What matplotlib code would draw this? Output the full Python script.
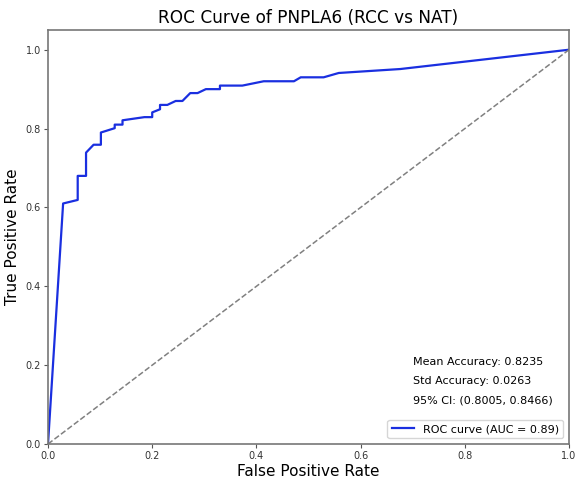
import matplotlib
matplotlib.use("Agg")
import matplotlib.pyplot as plt

fpr = [0.0, 0.029, 0.057, 0.057, 0.073, 0.073, 0.0875, 0.1015, 0.1015, 0.128, 0.128, 0.143, 0.143,
       0.185, 0.2, 0.2, 0.215, 0.215, 0.229, 0.245, 0.258, 0.273, 0.287, 0.303, 0.33, 0.33,
       0.373, 0.414, 0.472, 0.485, 0.529, 0.558, 0.676, 1.0]
tpr = [0.0, 0.61, 0.619, 0.68, 0.68, 0.739, 0.759, 0.759, 0.79, 0.801, 0.81, 0.81, 0.821,
       0.829, 0.829, 0.841, 0.849, 0.86, 0.86, 0.87, 0.87, 0.89, 0.89, 0.9, 0.9, 0.909,
       0.909, 0.92, 0.92, 0.93, 0.93, 0.941, 0.951, 1.0]
auc = 0.89
stats_lines = ["Mean Accuracy: 0.8235", "Std Accuracy: 0.0263", "95% CI: (0.8005, 0.8466)"]

fig = plt.figure(figsize=(5.77, 4.8), dpi=100)
ax = fig.add_axes([0.0832, 0.075, 0.903, 0.8625])
ax.plot(fpr, tpr, color="#1a2fe0", lw=1.6, label=f"ROC curve (AUC = {auc:.2f})")
ax.plot([0, 1], [0, 1], color="gray", lw=1.1, linestyle="--")
ax.set_xlim(0, 1)
ax.set_ylim(0, 1.05)
ax.set_xlabel("False Positive Rate", fontsize=11, labelpad=2)
ax.set_ylabel("True Positive Rate", fontsize=11, labelpad=4)
ax.set_title("ROC Curve of PNPLA6 (RCC vs NAT)", fontsize=12.2, pad=5)
ax.tick_params(labelsize=7, length=3, pad=2, color="#555555", labelcolor="#333333")
for sp in ax.spines.values():
    sp.set_color("#777777")
    sp.set_linewidth(1.2)
for i, s in enumerate(stats_lines):
    ax.text(0.70, 0.208 - i * 0.049, s, fontsize=8, va="center")
ax.legend(loc="lower right", fontsize=8, handlelength=2.0)
fig.savefig("out.png", dpi=100)
